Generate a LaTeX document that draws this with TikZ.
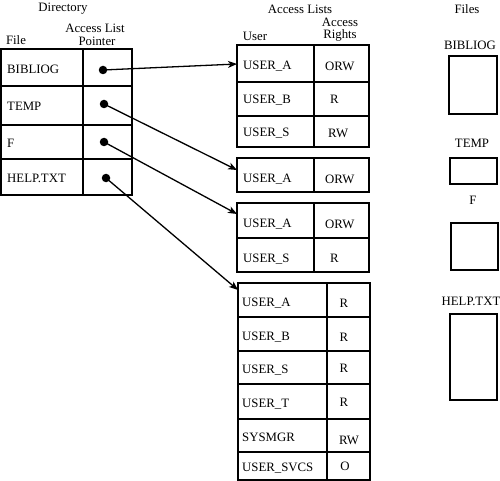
\documentclass[tikz,border=0pt]{standalone}
\usepackage{fontspec}
\setmainfont{Liberation Serif}
\usetikzlibrary{arrows.meta}
\begin{document}
\begin{tikzpicture}[x=1pt,y=-1pt,
  frame/.style={line width=1.4pt},
  txt/.style={inner sep=0pt,font=\fontsize{12.8}{14}\selectfont},
  lt/.style={txt,anchor=west},
  ptr/.style={circle,fill=black,inner sep=0pt,minimum size=8.5pt},
  arr/.style={line width=1.3pt,-{Stealth[length=9pt,width=7pt,inset=2.5pt]}}]
\useasboundingbox (0,0) rectangle (500,481);
% headers
\node[txt] (hdir) at (63,9) {Directory};
\node[txt] (hal) at (95,28) {Access List};
\node[txt] (hptr) at (97,41) {Pointer};
\node[txt] (hfile) at (16,40) {File};
\node[txt] (hlists) at (300,9) {Access Lists};
\node[txt] (huser) at (255,36) {User};
\node[txt] (hacc) at (340,22) {Access};
\node[txt] (hrights) at (340,35) {Rights};
\node[txt] (hfiles) at (467,9) {Files};
% directory table
\draw[frame] (1,49) rectangle (132,195);
\draw[frame] (83,49) -- (83,195);
\draw[frame] (1,86) -- (132,86) (1,125) -- (132,125) (1,159) -- (132,159);
\node[lt] (d1) at (7,69) {BIBLIOG};
\node[lt] (d2) at (7,106) {TEMP};
\node[lt] (d3) at (7,143) {F};
\node[lt] (d4) at (7,178) {HELP.TXT};
\node[ptr] (p1) at (103,70) {};
\node[ptr] (p2) at (104,104) {};
\node[ptr] (p3) at (104,142) {};
\node[ptr] (p4) at (106,178) {};
% access list 1
\draw[frame] (237,45) rectangle (369,147);
\draw[frame] (314,45) -- (314,147);
\draw[frame] (237,82) -- (369,82) (237,116) -- (369,116);
\node[lt] (a1u1) at (243,66) {USER\_A};
\node[lt] (a1r1) at (325,66) {ORW};
\node[lt] (a1u2) at (243,100) {USER\_B};
\node[lt] (a1r2) at (330,99) {R};
\node[lt] (a1u3) at (243,133) {USER\_S};
\node[lt] (a1r3) at (328,133) {RW};
% access list 2
\draw[frame] (237,158) rectangle (369,192);
\draw[frame] (314,158) -- (314,192);
\node[lt] (a2u1) at (243,179) {USER\_A};
\node[lt] (a2r1) at (325,179) {ORW};
% access list 3
\draw[frame] (237,203) rectangle (369,272);
\draw[frame] (314,203) -- (314,272);
\draw[frame] (237,238) -- (369,238);
\node[lt] (a3u1) at (243,224) {USER\_A};
\node[lt] (a3r1) at (325,224) {ORW};
\node[lt] (a3u2) at (243,259) {USER\_S};
\node[lt] (a3r2) at (330,258) {R};
% access list 4
\draw[frame] (238,283) rectangle (370,480);
\draw[frame] (327,283) -- (327,480);
\draw[frame] (238,317) -- (370,317) (238,351) -- (370,351) (238,384) -- (370,384)
  (238,419) -- (370,419) (238,452) -- (370,452);
\node[lt] (a4u1) at (242,303) {USER\_A};
\node[txt] (a4r1) at (344,303) {R};
\node[lt] (a4u2) at (242,337) {USER\_B};
\node[txt] (a4r2) at (344,337) {R};
\node[lt] (a4u3) at (242,370) {USER\_S};
\node[txt] (a4r3) at (344,368) {R};
\node[lt] (a4u4) at (242,404) {USER\_T};
\node[txt] (a4r4) at (344,402) {R};
\node[lt] (a4u5) at (242,437) {SYSMGR};
\node[txt] (a4r5) at (349,440) {RW};
\node[lt] (a4u6) at (242,468) {USER\_SVCS};
\node[txt] (a4r6) at (345,466) {O};
% arrow targets
\coordinate (c1) at (237,64);
\coordinate (c2) at (237,170);
\coordinate (c3) at (237,214);
\coordinate (c4) at (238,290);
\draw[arr] (p1.center) -- (c1);
\draw[arr] (p2.center) -- (c2);
\draw[arr] (p3.center) -- (c3);
\draw[arr] (p4.center) -- (c4);
% files
\node[txt] (f1) at (470,45) {BIBLIOG};
\draw[frame] (449,56) rectangle (497,114);
\node[txt] (f2) at (472,143) {TEMP};
\draw[frame] (450,158) rectangle (497,184);
\node[txt] (f3) at (473,200) {F};
\draw[frame] (451,223) rectangle (498,270);
\node[txt] (f4) at (471,301) {HELP.TXT};
\draw[frame] (450,314) rectangle (497,400);
\end{tikzpicture}
\end{document}
